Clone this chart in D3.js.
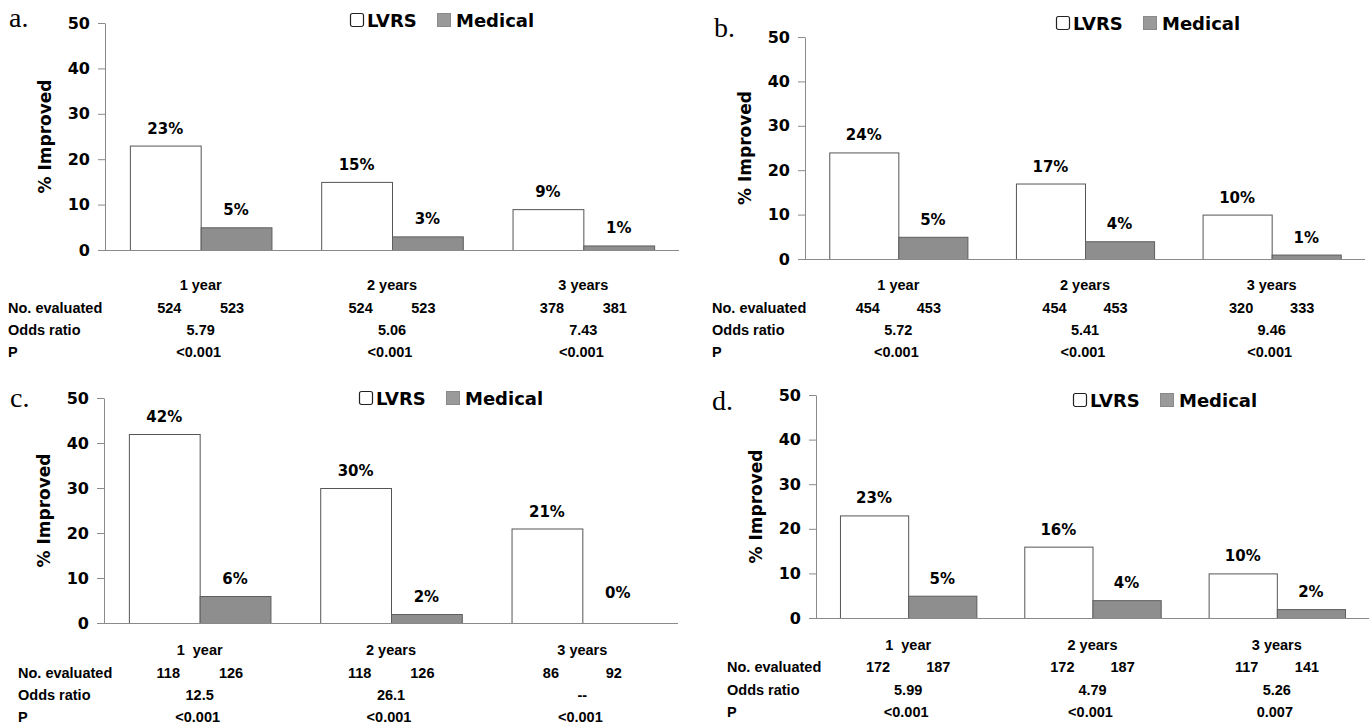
<!DOCTYPE html>
<html>
<head>
<meta charset="utf-8">
<script src="https://cdn.jsdelivr.net/npm/d3@7"></script>
<style>
  html, body { margin: 0; padding: 0; background: #fff; }
  svg { display: block; }
  .tbl { font-family: "Liberation Sans", Arial, sans-serif; font-weight: bold; font-size: 14.5px; fill: #000; white-space: pre; }
  .pct { font-family: "DejaVu Sans", sans-serif; font-weight: bold; font-size: 15px; fill: #000; }
  .tick text { font-family: "DejaVu Sans", sans-serif; font-weight: bold; font-size: 16px; fill: #000; }
  .ylab { font-family: "DejaVu Sans", sans-serif; font-weight: bold; font-size: 17px; fill: #000; }
  .leg { font-family: "DejaVu Sans", sans-serif; font-weight: bold; font-size: 18px; fill: #000; }
  .letter { font-family: "Liberation Serif", "Times New Roman", serif; font-size: 28px; fill: #000; }
</style>
</head>
<body>
<script>
'use strict';

let WIDTH = 1369;
let HEIGHT = 724;

// ---- data ----
let panelNames = ['a.', 'b.', 'c.', 'd.'];
let seriesNames = ['LVRS', 'Medical'];
let categoriesAB = ['1 year', '2 years', '3 years'];
let categoriesCD = ['1  year', '2 years', '3 years'];
let yTicks = [0, 10, 20, 30, 40, 50];

let lvrsA = [23, 15, 9];
let medA = [5, 3, 1];
let lvrsB = [24, 17, 10];
let medB = [5, 4, 1];
let lvrsC = [42, 30, 21];
let medC = [6, 2, 0];
let lvrsD = [23, 16, 10];
let medD = [5, 4, 2];

let nLvrsA = [524, 524, 378];
let nMedA = [523, 523, 381];
let nLvrsB = [454, 454, 320];
let nMedB = [453, 453, 333];
let nLvrsC = [118, 118, 86];
let nMedC = [126, 126, 92];
let nLvrsD = [172, 172, 117];
let nMedD = [187, 187, 141];

let oddsA = ['5.79', '5.06', '7.43'];
let oddsB = ['5.72', '5.41', '9.46'];
let oddsC = ['12.5', '26.1', '--'];
let oddsD = ['5.99', '4.79', '5.26'];

let pA = ['<0.001', '<0.001', '<0.001'];
let pB = ['<0.001', '<0.001', '<0.001'];
let pC = ['<0.001', '<0.001', '<0.001'];
let pD = ['<0.001', '<0.001', '0.007'];

// ---- layout of each panel (pixel positions, not data) ----
let layouts = [
    { axisX: 105, axisEnd: 679, yTop: 23, yBot: 250, legX: 350, legY: 27, letX: 9, letY: 27,
      tblX: 8, rows: [290, 313, 335, 357] },
    { axisX: 805, axisEnd: 1365, yTop: 37, yBot: 259, legX: 1056, legY: 30, letX: 714, letY: 37,
      tblX: 712, rows: [290, 313, 335, 357] },
    { axisX: 104, axisEnd: 678, yTop: 398, yBot: 623, legX: 359, legY: 405, letX: 10, letY: 407,
      tblX: 18, rows: [655, 678, 700, 722] },
    { axisX: 816, axisEnd: 1369, yTop: 395, yBot: 618, legX: 1073, legY: 407, letX: 712, letY: 410,
      tblX: 727, rows: [650, 672, 695, 717] }
];

let panels = [
    { name: panelNames[0], cats: categoriesAB, lvrs: lvrsA, med: medA, nL: nLvrsA, nM: nMedA, odds: oddsA, p: pA },
    { name: panelNames[1], cats: categoriesAB, lvrs: lvrsB, med: medB, nL: nLvrsB, nM: nMedB, odds: oddsB, p: pB },
    { name: panelNames[2], cats: categoriesCD, lvrs: lvrsC, med: medC, nL: nLvrsC, nM: nMedC, odds: oddsC, p: pC },
    { name: panelNames[3], cats: categoriesCD, lvrs: lvrsD, med: medD, nL: nLvrsD, nM: nMedD, odds: oddsD, p: pD }
];

let FILL = { LVRS: '#ffffff', Medical: '#8e8e8e' };
let STROKE = { LVRS: '#555555', Medical: '#5e5e5e' };
let AXIS_COLOR = '#8a8a8a';

let svg = d3.select('body')
    .append('svg')
    .attr('width', WIDTH)
    .attr('height', HEIGHT);

function drawPanel(panel, lay) {
    let g = svg.append('g');
    // one band per time point, the axis step of the group spans the whole band
    let n = panel.cats.length;
    let step = (lay.axisEnd - lay.axisX) / n;
    // keep band steps equal even where the baseline is cut by the page edge
    let x = d3.scaleBand()
        .domain(d3.range(n))
        .range([lay.axisX, lay.axisX + step * n])
        .paddingInner(0.26)
        .paddingOuter(0.13);
    let xs = d3.scaleBand()
        .domain(seriesNames)
        .range([0, x.bandwidth()]);
    let y = d3.scaleLinear()
        .domain([0, 50])
        .range([lay.yBot, lay.yTop]);

    let rows = d3.range(n).map(function (i) {
        return [
            { s: 'LVRS', v: panel.lvrs[i], i: i },
            { s: 'Medical', v: panel.med[i], i: i }
        ];
    });
    let flat = [].concat.apply([], rows);

    // bars
    g.selectAll('rect.bar')
        .data(flat)
        .enter()
        .append('rect')
        .attr('class', 'bar')
        .attr('x', function (d) { return x(d.i) + xs(d.s) + 0.5; })
        .attr('y', function (d) { return y(d.v) + 0.5; })
        .attr('width', xs.bandwidth())
        .attr('height', function (d) { return Math.max(0, y(0) - y(d.v)); })
        .attr('fill', function (d) { return FILL[d.s]; })
        .attr('stroke', function (d) { return STROKE[d.s]; })
        .attr('stroke-width', 1)
        .attr('display', function (d) { return d.v > 0 ? null : 'none'; });

    // value labels
    g.selectAll('text.pct')
        .data(flat)
        .enter()
        .append('text')
        .attr('class', 'pct')
        .attr('text-anchor', 'middle')
        .attr('x', function (d) { return x(d.i) + xs(d.s) + xs.bandwidth() / 2; })
        .attr('y', function (d) { return y(d.v) - (d.v === 0 ? 25 : 12); })
        .text(function (d) { return d.v + '%'; });

    // y axis
    let yAxis = g.append('g')
        .attr('transform', 'translate(' + lay.axisX + ',0)')
        .call(d3.axisLeft(y).tickValues(yTicks).tickSize(7).tickSizeOuter(0).tickPadding(8));
    yAxis.select('.domain').attr('stroke', AXIS_COLOR);
    yAxis.selectAll('.tick line').attr('stroke', AXIS_COLOR);

    // baseline
    g.append('line')
        .attr('x1', lay.axisX - 7)
        .attr('x2', Math.min(WIDTH, lay.axisEnd))
        .attr('y1', y(0) + 0.5)
        .attr('y2', y(0) + 0.5)
        .attr('stroke', AXIS_COLOR)
        .attr('stroke-width', 1);

    // y label
    g.append('text')
        .attr('class', 'ylab')
        .attr('text-anchor', 'middle')
        .attr('transform', 'translate(' + (lay.axisX - 54) + ',' + ((lay.yTop + lay.yBot) / 2) + ') rotate(-90)')
        .text('% Improved');

    // panel letter
    g.append('text')
        .attr('class', 'letter')
        .attr('x', lay.letX)
        .attr('y', lay.letY)
        .text(panel.name);

    // legend
    let leg = g.append('g').attr('transform', 'translate(' + lay.legX + ',' + lay.legY + ')');
    leg.append('rect')
        .attr('x', 0.5).attr('y', -13.5).attr('width', 13).attr('height', 13)
        .attr('rx', 2).attr('fill', '#fff').attr('stroke', '#222').attr('stroke-width', 1.2);
    leg.append('text').attr('class', 'leg').attr('x', 17).attr('y', 0).text(seriesNames[0]);
    leg.append('rect')
        .attr('x', 87.5).attr('y', -13.5).attr('width', 13).attr('height', 13)
        .attr('fill', '#9a9a9a').attr('stroke', '#8a8a8a').attr('stroke-width', 1);
    leg.append('text').attr('class', 'leg').attr('x', 106).attr('y', 0).text(seriesNames[1]);

    // table under the chart
    let tbl = g.append('g');
    tbl.append('text').attr('class', 'tbl').attr('x', lay.tblX).attr('y', lay.rows[1]).text('No. evaluated');
    tbl.append('text').attr('class', 'tbl').attr('x', lay.tblX).attr('y', lay.rows[2]).text('Odds ratio');
    tbl.append('text').attr('class', 'tbl').attr('x', lay.tblX).attr('y', lay.rows[3]).text('P');

    let mid = function (i) { return x(i) + x.bandwidth() / 2; };
    tbl.selectAll('text.cat')
        .data(panel.cats)
        .enter()
        .append('text')
        .attr('class', 'tbl cat')
        .attr('text-anchor', 'middle')
        .attr('x', function (d, i) { return mid(i); })
        .attr('y', lay.rows[0])
        .text(function (d) { return d; });
    tbl.selectAll('text.nl')
        .data(panel.nL)
        .enter()
        .append('text')
        .attr('class', 'tbl nl')
        .attr('text-anchor', 'middle')
        .attr('x', function (d, i) { return x(i) + xs('LVRS') + xs.bandwidth() / 2 + 4; })
        .attr('y', lay.rows[1])
        .text(function (d) { return d; });
    tbl.selectAll('text.nm')
        .data(panel.nM)
        .enter()
        .append('text')
        .attr('class', 'tbl nm')
        .attr('text-anchor', 'middle')
        .attr('x', function (d, i) { return x(i) + xs('Medical') + xs.bandwidth() / 2 - 4; })
        .attr('y', lay.rows[1])
        .text(function (d) { return d; });
    tbl.selectAll('text.odds')
        .data(panel.odds)
        .enter()
        .append('text')
        .attr('class', 'tbl odds')
        .attr('text-anchor', 'middle')
        .attr('x', function (d, i) { return mid(i); })
        .attr('y', lay.rows[2])
        .text(function (d) { return d; });
    tbl.selectAll('text.pv')
        .data(panel.p)
        .enter()
        .append('text')
        .attr('class', 'tbl pv')
        .attr('text-anchor', 'middle')
        .attr('x', function (d, i) { return mid(i) - 2; })
        .attr('y', lay.rows[3])
        .text(function (d) { return d; });
}

for (let i = 0; i < panels.length; i++) {
    drawPanel(panels[i], layouts[i]);
}
</script>
</body>
</html>
